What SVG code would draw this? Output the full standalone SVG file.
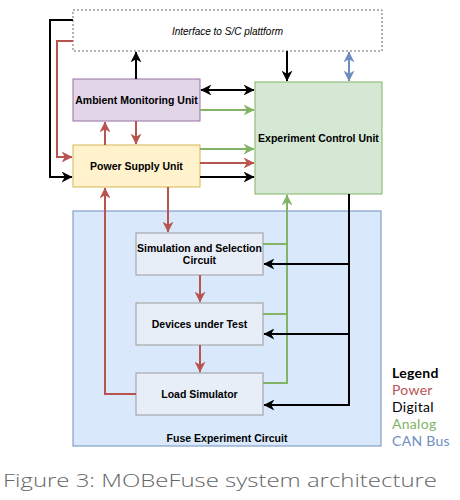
<svg xmlns="http://www.w3.org/2000/svg" width="460" height="500" viewBox="0 0 460 500">
<defs>
<style>
.lbl{font-family:"Liberation Sans",Arial,sans-serif;font-size:10.5px;font-weight:bold;fill:#000;text-anchor:middle}
.c{fill:none;stroke-width:2}
.k{stroke:#000}.r{stroke:#b85450}.g{stroke:#82b366}.b{stroke:#6c8ebf}
.leg{font-family:Lato,"Open Sans",sans-serif;font-size:14px;letter-spacing:0.3px}
</style>
<marker id="ar" viewBox="0 0 10 10" refX="9.5" refY="5" markerWidth="5.5" markerHeight="5.5" orient="auto-start-reverse" markerUnits="strokeWidth"><path d="M0,0 L10,5 L0,10 L3,5 z" fill="#b85450"/></marker>
<marker id="ag" viewBox="0 0 10 10" refX="9.5" refY="5" markerWidth="5.5" markerHeight="5.5" orient="auto-start-reverse" markerUnits="strokeWidth"><path d="M0,0 L10,5 L0,10 L3,5 z" fill="#82b366"/></marker>
<marker id="ab" viewBox="0 0 10 10" refX="9.5" refY="5" markerWidth="5.5" markerHeight="5.5" orient="auto-start-reverse" markerUnits="strokeWidth"><path d="M0,0 L10,5 L0,10 L3,5 z" fill="#6c8ebf"/></marker>
<marker id="ak" viewBox="0 0 10 10" refX="9.5" refY="5" markerWidth="5.5" markerHeight="5.5" orient="auto-start-reverse" markerUnits="strokeWidth"><path d="M0,0 L10,5 L0,10 L3,5 z" fill="#000"/></marker>
</defs>
<rect width="460" height="500" fill="#fff"/>
<g id="fuse-circuit">
<rect x="73" y="211" width="308" height="235" fill="#dae8fc" stroke="#6c8ebf" stroke-width="1"/>
<text class="lbl" x="227" y="442">Fuse Experiment Circuit</text>
</g>
<g id="interface">
<rect x="73" y="10" width="309" height="41" fill="#fff" stroke="#666" stroke-width="1" stroke-dasharray="2,2"/>
<text x="227.5" y="35" font-family="Liberation Sans,Arial,sans-serif" font-size="10px" font-style="italic" text-anchor="middle">Interface to S/C plattform</text>
</g>
<g id="amu">
<rect x="73" y="79" width="127" height="42" fill="#e1d5e7" stroke="#9673a6"/>
<text class="lbl" x="136.5" y="104">Ambient Monitoring Unit</text>
</g>
<g id="psu">
<rect x="73" y="145" width="127" height="42" fill="#fff2cc" stroke="#d6b656"/>
<text class="lbl" x="136.5" y="170">Power Supply Unit</text>
</g>
<g id="ecu">
<rect x="255" y="82" width="127" height="112" fill="#d5e8d4" stroke="#82b366"/>
<text class="lbl" x="318.5" y="142">Experiment Control Unit</text>
</g>
<g id="sim">
<rect x="136" y="233" width="127" height="42" fill="#e8eef8" stroke="#999"/>
<text class="lbl" x="199.5" y="252">Simulation and Selection</text>
<text class="lbl" x="199.5" y="264">Circuit</text>
</g>
<g id="dut">
<rect x="136" y="303" width="127" height="42" fill="#e8eef8" stroke="#999"/>
<text class="lbl" x="199.5" y="328">Devices under Test</text>
</g>
<g id="load">
<rect x="136" y="373" width="127" height="42" fill="#e8eef8" stroke="#999"/>
<text class="lbl" x="199.5" y="398">Load Simulator</text>
</g>
<g id="connectors">
<path class="c k" d="M73,20 H50 V177 H72" marker-end="url(#ak)"/>
<path class="c r" d="M73,41 H57 V157 H72" marker-end="url(#ar)"/>
<path class="c k" d="M136,79 V52" marker-end="url(#ak)"/>
<path class="c r" d="M105,145 V122" marker-end="url(#ar)"/>
<path class="c r" d="M136,121 V144" marker-end="url(#ar)"/>
<path class="c k" d="M201,90 H254" marker-start="url(#ak)" marker-end="url(#ak)"/>
<path class="c g" d="M200,110 H254" marker-end="url(#ag)"/>
<path class="c g" d="M200,149 H254" marker-end="url(#ag)"/>
<path class="c r" d="M200,163 H254" marker-end="url(#ar)"/>
<path class="c k" d="M200,177 H254" marker-end="url(#ak)"/>
<path class="c k" d="M287,51 V81" marker-end="url(#ak)"/>
<path class="c b" d="M349,52 V81" marker-start="url(#ab)" marker-end="url(#ab)"/>
<path class="c r" d="M168,187 V232" marker-end="url(#ar)"/>
<path class="c r" d="M136,394 H105 V188" marker-end="url(#ar)"/>
<path class="c r" d="M200,275 V302" marker-end="url(#ar)"/>
<path class="c r" d="M200,345 V372" marker-end="url(#ar)"/>
<path class="c g" d="M263,244 H287 M263,314 H287 M263,383 H287 V195" marker-end="url(#ag)"/>
<path class="c k" d="M349,194 V405 H264" marker-end="url(#ak)"/>
<path class="c k" d="M349,264 H264" marker-end="url(#ak)"/>
<path class="c k" d="M349,334 H264" marker-end="url(#ak)"/>
</g>
<g id="legend">
<text class="leg" x="392" y="378" font-weight="bold" fill="#000">Legend</text>
<text class="leg" x="392" y="395" fill="#b85450">Power</text>
<text class="leg" x="392" y="412" fill="#000">Digital</text>
<text class="leg" x="392" y="429" fill="#82b366">Analog</text>
<text class="leg" x="392" y="446" fill="#6c8ebf">CAN Bus</text>
</g>
<text x="3" y="487" font-family="'Open Sans',Lato,sans-serif" font-size="19px" font-weight="300" fill="#666" textLength="434" lengthAdjust="spacingAndGlyphs">Figure 3: MOBeFuse system architecture</text>
</svg>
